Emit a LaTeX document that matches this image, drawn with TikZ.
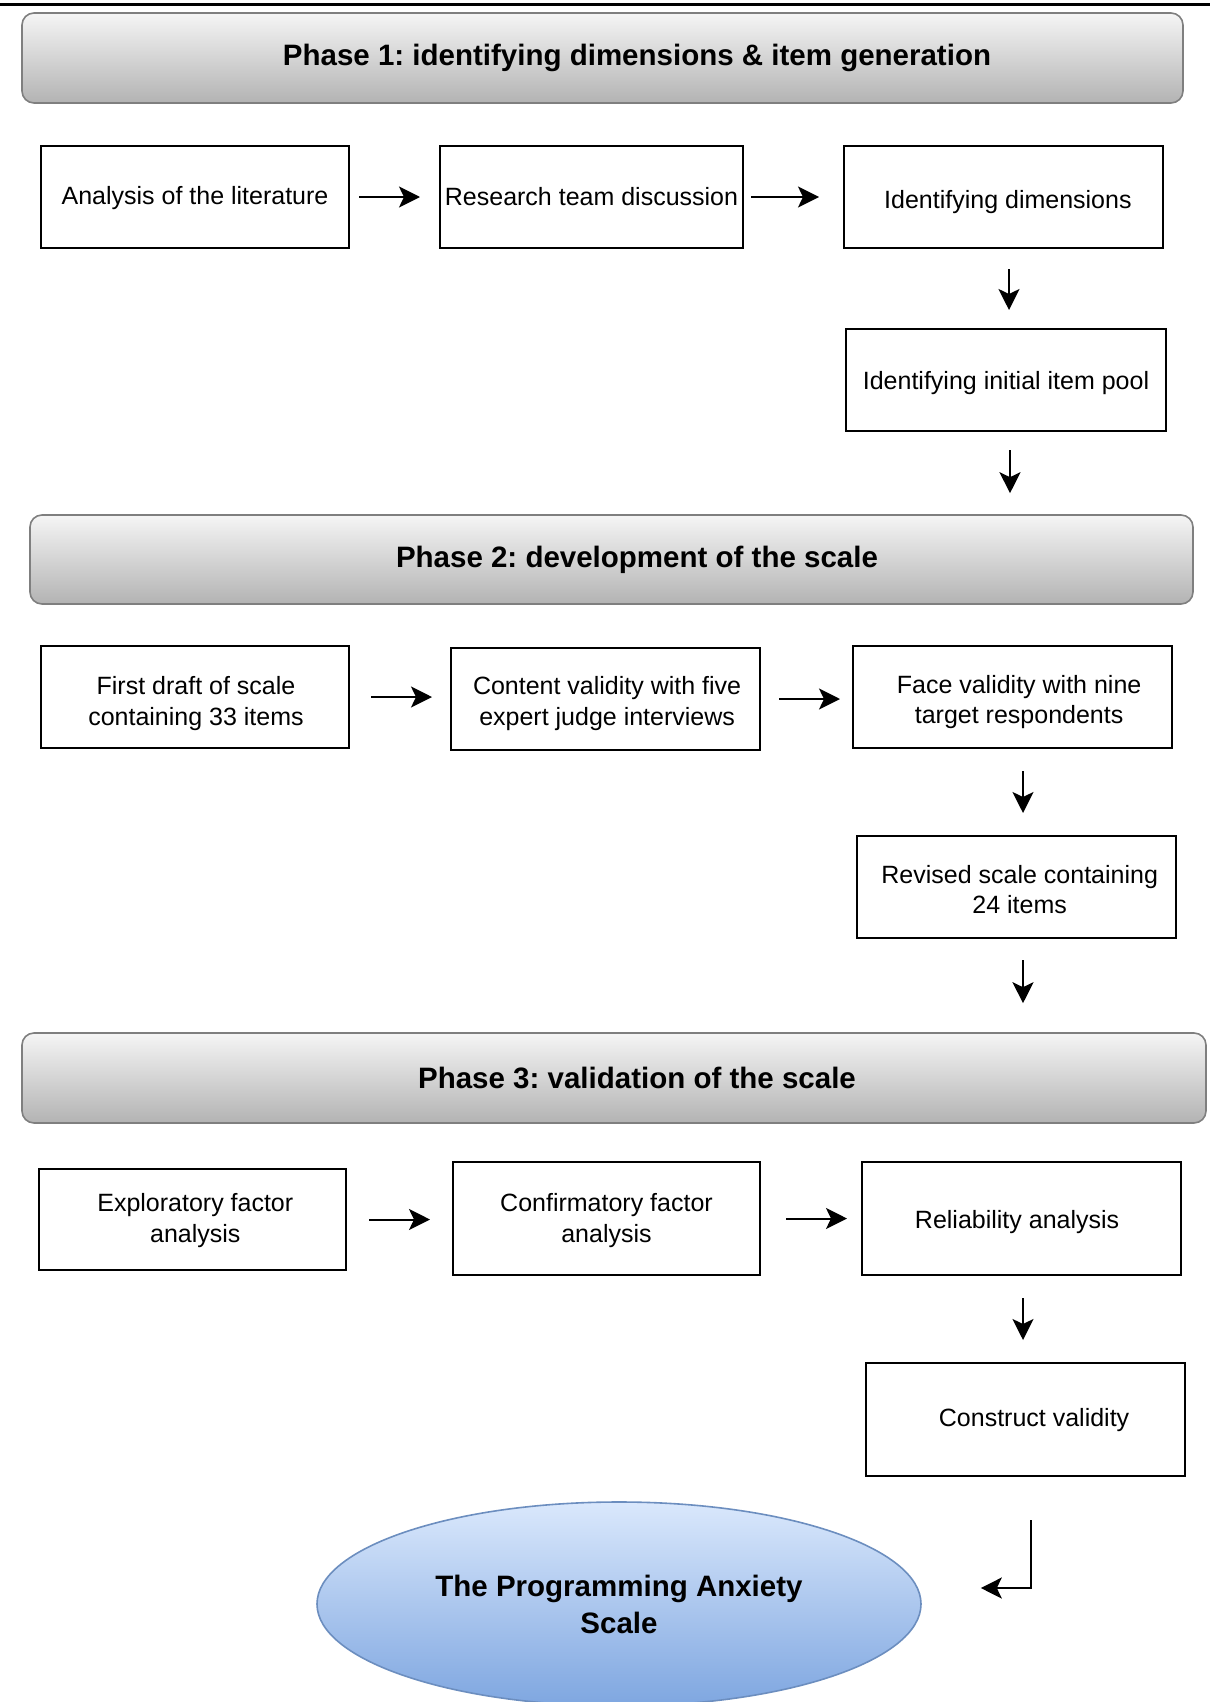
\documentclass[tikz,border=0pt]{standalone}
\usepackage{fontspec}
\setmainfont{Liberation Sans}
\usetikzlibrary{arrows.meta,shapes.geometric,calc}
\definecolor{hdrtop}{HTML}{F5F5F5}
\definecolor{hdrbot}{HTML}{B3B3B3}
\definecolor{hdrline}{HTML}{7F7F7F}
\definecolor{elltop}{HTML}{DAE8FC}
\definecolor{ellbot}{HTML}{7EA6E0}
\definecolor{ellline}{HTML}{6C8EBF}
\frenchspacing
\begin{document}
\begin{tikzpicture}[x=0.5pt,y=-0.5pt,
 box/.style={draw=black, line width=1pt, inner sep=0pt, minimum height=51pt},
 btext/.style={inner sep=0pt, align=center, font=\fontsize{12.5}{15.2}\selectfont},
 header/.style={draw=hdrline, line width=0.8pt, rounded corners=6pt,
   top color=hdrtop, bottom color=hdrbot, minimum height=45pt, inner sep=0pt},
 htext/.style={font=\fontsize{14.75}{18}\selectfont\bfseries},
 arr/.style={-{Stealth[length=10.5pt,width=10.5pt,inset=2.5pt]}, line width=1pt},
]
\useasboundingbox (0,0) rectangle (1210,1702);
\clip (0,0) rectangle (1210,1702);
\draw[line width=1.5pt] (0,5) -- (1210,5);

% Phase 1
\node[header, minimum width=580.5pt,
  label={[htext,xshift=17.25pt]center:{Phase 1: identifying dimensions \& item generation}}] (H1) at (602.5,58) {};
\node[box, minimum width=154pt,
  label={[btext,name=A1t,yshift=-0.5pt]center:{Analysis of the literature}}] (A1) at (195,197) {};
\node[box, minimum width=151.5pt,
  label={[btext,name=A2t]center:{Research team discussion}}] (A2) at (591.5,197) {};
\node[box, minimum width=159.5pt,
  label={[btext,name=A3t,xshift=2.2pt,yshift=-2.7pt]center:{Identifying dimensions}}] (A3) at (1003.5,197) {};
\node[box, minimum width=160pt,
  label={[btext,name=A4t,yshift=-1.6pt]center:{Identifying initial item pool}}] (A4) at (1006,380) {};

% Phase 2
\node[header, minimum width=581.5pt, minimum height=44.5pt,
  label={[htext,xshift=12.75pt]center:{Phase 2: development of the scale}}] (H2) at (611.5,559.5) {};
\node[box, minimum width=154pt,
  label={[btext,name=B1t,xshift=0.5pt,yshift=-3.3pt]center:{First draft of scale\\containing 33 items}}] (B1) at (195,697) {};
\node[box, minimum width=154.5pt,
  label={[btext,name=B2t,xshift=0.8pt,yshift=-2.3pt]center:{Content validity with five\\expert judge interviews}}] (B2) at (605.5,699) {};
\node[box, minimum width=159.5pt,
  label={[btext,name=B3t,xshift=3.3pt,yshift=-2.6pt]center:{Face validity with nine\\target respondents}}] (B3) at (1012.5,697) {};
\node[box, minimum width=159.5pt,
  label={[btext,name=B4t,xshift=1.6pt,yshift=-1.4pt]center:{Revised scale containing\\24 items}}] (B4) at (1016.5,887) {};

% Phase 3
\node[header, minimum width=592pt,
  label={[htext,xshift=11.5pt]center:{Phase 3: validation of the scale}}] (H3) at (614,1078) {};
\node[box, minimum width=153.5pt, minimum height=50.5pt,
  label={[btext,name=C1t,xshift=1.4pt,yshift=-0.5pt]center:{Exploratory factor\\analysis}}] (C1) at (192.5,1219.5) {};
\node[box, minimum width=153.5pt, minimum height=56.5pt,
  label={[btext,name=C2t,yshift=-1pt]center:{Confirmatory factor\\analysis}}] (C2) at (606.5,1218.5) {};
\node[box, minimum width=159.5pt, minimum height=56.5pt,
  label={[btext,name=C3t,xshift=-2.2pt,yshift=-1.6pt]center:{Reliability analysis}}] (C3) at (1021.5,1218.5) {};
\node[box, minimum width=159.5pt, minimum height=56.5pt,
  label={[btext,name=C4t,xshift=4.3pt,yshift=-0.5pt]center:{Construct validity}}] (C4) at (1025.5,1419.5) {};

% Final ellipse
\node[ellipse, draw=ellline, line width=0.8pt, top color=elltop, bottom color=ellbot,
  minimum width=302pt, minimum height=102pt, inner sep=0pt, align=center,
  font=\fontsize{14.75}{18.5}\selectfont\bfseries] (E) at (619,1604) {The Programming Anxiety\\Scale};

% Arrows
\draw[arr, shorten <=4.5pt, shorten >=9.5pt] (A1.east) -- (A2.west);
\draw[arr, shorten <=3.5pt, shorten >=12pt] (A2.east) -- (A3.west);
\draw[arr, shorten <=10pt, shorten >=9pt] ([xshift=2.75pt]A3.south) -- ([xshift=2.75pt]A3.south |- A4.north);
\draw[arr, shorten <=9pt, shorten >=10.5pt] ([xshift=2pt]A4.south) -- ([xshift=2pt]A4.south |- H2.north);

\draw[arr, shorten <=10.5pt, shorten >=9pt] (B1.east) -- (B1.east -| B2.west);
\draw[arr, shorten <=9pt, shorten >=6pt] (B2.east) -- (B2.east -| B3.west);
\draw[arr, shorten <=11pt, shorten >=11pt] ([xshift=5.25pt]B3.south) -- ([xshift=5.25pt]B3.south |- B4.north);
\draw[arr, shorten <=10.5pt, shorten >=14.5pt] ([xshift=3.25pt]B4.south) -- ([xshift=3.25pt]B4.south |- H3.north);

\draw[arr, shorten <=11pt, shorten >=11pt] (C1.east) -- (C1.east -| C2.west);
\draw[arr, shorten <=12.5pt, shorten >=7pt] (C2.east) -- (C2.east -| C3.west);
\draw[arr, shorten <=11pt, shorten >=11pt] ([xshift=0.75pt]C3.south) -- ([xshift=0.75pt]C3.south |- C4.north);
\draw[arr, shorten <=21.5pt, shorten >=29.5pt] ([xshift=2.75pt]C4.south) |- ([yshift=8pt]E.east);
\end{tikzpicture}
\end{document}
